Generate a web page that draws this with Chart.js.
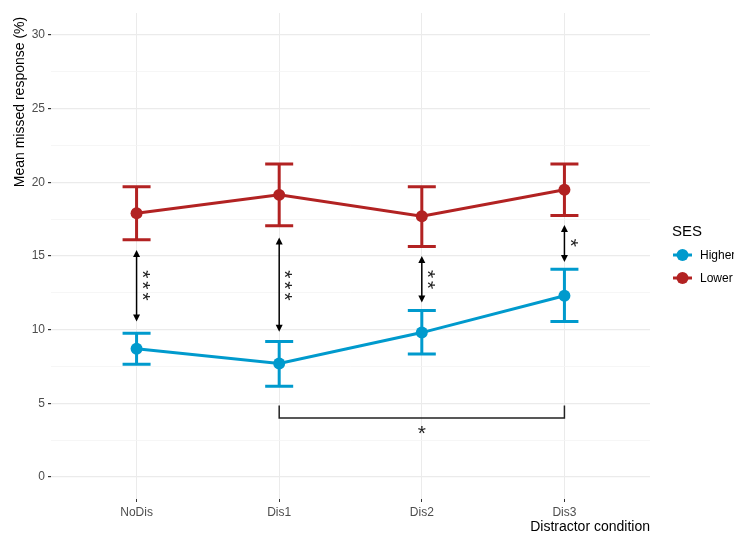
<!DOCTYPE html>
<html>
<head>
<meta charset="utf-8">
<script src="https://cdn.jsdelivr.net/npm/chart.js@4.4.1/dist/chart.umd.min.js"></script>
<style>
  body { margin: 0; background: #fff; }
  canvas { display: block; }
</style>
</head>
<body>
<canvas id="sesChart" width="734" height="535"></canvas>
<script>
// data
const categories = ['NoDis', 'Dis1', 'Dis2', 'Dis3'];
const yTicks = [0, 2.5, 5, 7.5, 10, 12.5, 15, 17.5, 20, 22.5, 25, 27.5, 30];

const higherMean = [8.7, 7.7, 9.8, 12.3];
const higherLow  = [7.65, 6.15, 8.35, 10.55];
const higherHigh = [9.75, 9.2, 11.3, 14.1];

const lowerMean = [17.9, 19.15, 17.7, 19.5];
const lowerLow  = [16.1, 17.05, 15.65, 17.75];
const lowerHigh = [19.7, 21.25, 19.7, 21.25];

// significance arrows between groups
const sigTop    = [15.4, 16.25, 15.0, 17.1];
const sigBottom = [10.55, 9.85, 11.85, 14.6];
const sigLabels = ['***', '***', '**', '*'];
const sigLabelY = [13.0, 13.0, 13.4, 15.9];

// bracket Dis1 - Dis3
const bracketFrom = 1, bracketTo = 3;
const bracketY = 4.0, bracketEnd = 4.85;
const bracketLabel = '*', bracketLabelY = 3.2;

const BLUE = '#009ACD';
const RED = '#B22222';
const FONT = '"Liberation Sans", Arial, sans-serif';

function toPoints(arr) {
  return arr.map((v, i) => ({ x: i, y: v }));
}

// error bars behind the points
const errorBars = {
  id: 'errorBars',
  beforeDatasetsDraw(chart) {
    const ctx = chart.ctx;
    const xs = chart.scales.x, ys = chart.scales.y;
    const sets = [[higherLow, higherHigh, BLUE], [lowerLow, lowerHigh, RED]];
    ctx.save();
    ctx.lineWidth = 3;
    sets.forEach(s => {
      ctx.strokeStyle = s[2];
      s[0].forEach((lo, i) => {
        const x = xs.getPixelForValue(i);
        const y1 = ys.getPixelForValue(lo);
        const y2 = ys.getPixelForValue(s[1][i]);
        ctx.beginPath();
        ctx.moveTo(x, y1); ctx.lineTo(x, y2);
        ctx.moveTo(x - 14, y1); ctx.lineTo(x + 14, y1);
        ctx.moveTo(x - 14, y2); ctx.lineTo(x + 14, y2);
        ctx.stroke();
      });
    });
    ctx.restore();
  }
};

function arrowHead(ctx, x, y, dir) {
  ctx.beginPath();
  ctx.moveTo(x, y);
  ctx.lineTo(x - 3.5, y - dir * 7);
  ctx.lineTo(x + 3.5, y - dir * 7);
  ctx.closePath();
  ctx.fill();
}

// arrows, asterisks, bracket, titles and legend
const annotations = {
  id: 'annotations',
  afterDatasetsDraw(chart) {
    const ctx = chart.ctx;
    const xs = chart.scales.x, ys = chart.scales.y;
    ctx.save();
    ctx.strokeStyle = '#000';
    ctx.fillStyle = '#000';
    ctx.lineWidth = 1.5;
    sigTop.forEach((t, i) => {
      const x = xs.getPixelForValue(i);
      const y1 = ys.getPixelForValue(t);
      const y2 = ys.getPixelForValue(sigBottom[i]);
      ctx.beginPath();
      ctx.moveTo(x, y1 + 5); ctx.lineTo(x, y2 - 5);
      ctx.stroke();
      arrowHead(ctx, x, y1, -1);
      arrowHead(ctx, x, y2, 1);

      ctx.save();
      ctx.translate(x + 9, ys.getPixelForValue(sigLabelY[i]));
      ctx.rotate(Math.PI / 2);
      ctx.font = '21px ' + FONT;
      ctx.letterSpacing = '3px';
      ctx.textAlign = 'center';
      ctx.textBaseline = 'middle';
      ctx.fillStyle = '#222';
      // letterSpacing adds a trailing gap, shift back half of it
      ctx.fillText(sigLabels[i], 1.5, 4);
      ctx.restore();
    });

    // bracket
    const bx1 = xs.getPixelForValue(bracketFrom);
    const bx2 = xs.getPixelForValue(bracketTo);
    const by = ys.getPixelForValue(bracketY);
    const be = ys.getPixelForValue(bracketEnd);
    ctx.strokeStyle = '#222';
    ctx.beginPath();
    ctx.moveTo(bx1, be); ctx.lineTo(bx1, by); ctx.lineTo(bx2, by); ctx.lineTo(bx2, be);
    ctx.stroke();
    ctx.font = '21px ' + FONT;
    ctx.textAlign = 'center';
    ctx.textBaseline = 'middle';
    ctx.fillStyle = '#222';
    ctx.fillText(bracketLabel, (bx1 + bx2) / 2, ys.getPixelForValue(bracketLabelY) + 4);

    // axis titles
    ctx.fillStyle = '#000';
    ctx.font = '14px ' + FONT;
    ctx.textAlign = 'right';
    ctx.textBaseline = 'middle';
    ctx.fillText('Distractor condition', chart.chartArea.right, 527);
    ctx.save();
    ctx.translate(20, 102);
    ctx.rotate(-Math.PI / 2);
    ctx.textAlign = 'center';
    ctx.fillText('Mean missed response (%)', 0, 0);
    ctx.restore();

    // legend
    ctx.textAlign = 'left';
    ctx.font = '15px ' + FONT;
    ctx.fillText('SES', 672, 232);
    [['Higher', BLUE, 255], ['Lower', RED, 278]].forEach(l => {
      ctx.strokeStyle = l[1];
      ctx.fillStyle = l[1];
      ctx.lineWidth = 3;
      ctx.beginPath();
      ctx.moveTo(673, l[2]); ctx.lineTo(692, l[2]);
      ctx.stroke();
      ctx.beginPath();
      ctx.arc(682.5, l[2], 6, 0, Math.PI * 2);
      ctx.fill();
      ctx.fillStyle = '#000';
      ctx.font = '12px ' + FONT;
      ctx.fillText(l[0], 700, l[2] + 0.5);
    });
    ctx.restore();
  }
};

const whiteBg = {
  id: 'whiteBg',
  beforeDraw(chart) {
    const ctx = chart.ctx;
    ctx.save();
    ctx.fillStyle = '#fff';
    ctx.fillRect(0, 0, chart.width, chart.height);
    ctx.restore();
  }
};

const isMajor = v => v % 5 === 0;

new Chart(document.getElementById('sesChart'), {
  type: 'line',
  data: {
    datasets: [
      {
        label: 'Higher',
        data: toPoints(higherMean),
        borderColor: BLUE,
        backgroundColor: BLUE,
        borderWidth: 3,
        pointRadius: 6,
        pointBorderWidth: 0,
        tension: 0
      },
      {
        label: 'Lower',
        data: toPoints(lowerMean),
        borderColor: RED,
        backgroundColor: RED,
        borderWidth: 3,
        pointRadius: 6,
        pointBorderWidth: 0,
        tension: 0
      }
    ]
  },
  options: {
    responsive: false,
    animation: false,
    layout: { padding: { top: 13, right: 84, left: 0, bottom: 0 } },
    plugins: {
      legend: { display: false },
      tooltip: { enabled: false }
    },
    scales: {
      x: {
        type: 'linear',
        min: -0.6,
        max: 3.6,
        afterBuildTicks: s => { s.ticks = categories.map((c, i) => ({ value: i })); },
        afterFit: s => { s.height = 36; },
        border: { display: false },
        grid: { color: '#ebebeb', lineWidth: 1, tickColor: '#333', tickLength: 3 },
        ticks: {
          color: '#4d4d4d',
          font: { family: FONT, size: 12 },
          padding: 3,
          maxRotation: 0,
          callback: v => categories[v]
        }
      },
      y: {
        min: -1.5,
        max: 31.5,
        afterBuildTicks: s => { s.ticks = yTicks.map(v => ({ value: v })); },
        afterFit: s => { s.width = 51; },
        border: { display: false },
        grid: {
          color: c => isMajor(c.tick.value) ? '#ebebeb' : '#f4f4f4',
          lineWidth: c => isMajor(c.tick.value) ? 1.2 : 0.8,
          tickColor: c => isMajor(c.tick.value) ? '#333' : 'rgba(0,0,0,0)',
          tickLength: 3
        },
        ticks: {
          color: '#4d4d4d',
          font: { family: FONT, size: 12 },
          padding: 3,
          autoSkip: false,
          callback: v => isMajor(v) ? v : ''
        }
      }
    }
  },
  plugins: [whiteBg, errorBars, annotations]
});
</script>
</body>
</html>
